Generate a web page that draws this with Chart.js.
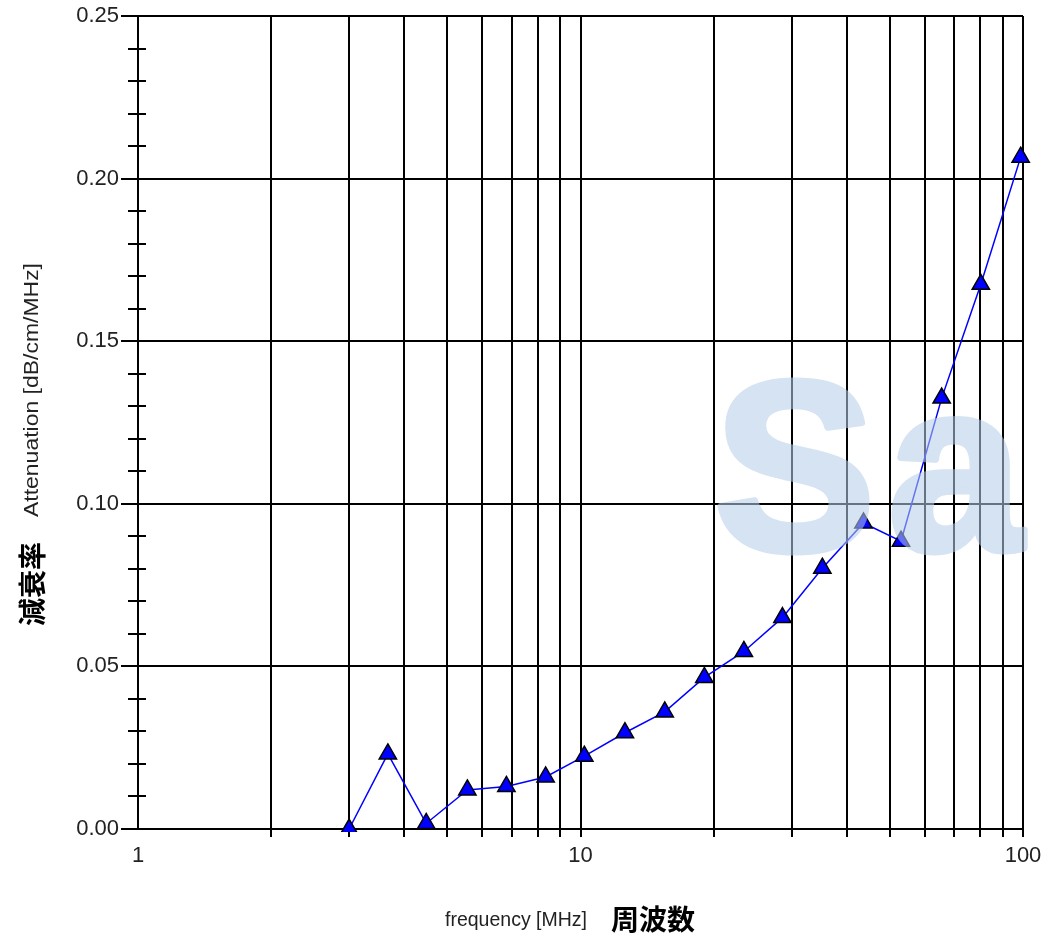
<!DOCTYPE html>
<html>
<head>
<meta charset="utf-8">
<script src="https://cdn.jsdelivr.net/npm/chart.js@4.4.1/dist/chart.umd.min.js"></script>
<style>
  html, body { margin: 0; padding: 0; background: #ffffff; }
  #wrap { width: 1043px; height: 938px; position: relative; }
  canvas { display: block; }
</style>
</head>
<body>
<div id="wrap"><canvas id="chart" width="1043" height="938"></canvas></div>
<script>
// Measured attenuation per frequency
const freqMHz = [3.0, 3.67, 4.48, 5.55, 6.80, 8.34, 10.2, 12.6, 15.5, 19.05, 23.4, 28.6, 35.2, 43.6, 53.0, 65.5, 80.3, 98.8];
const attenuation = [0.000, 0.0231, 0.0017, 0.0120, 0.0131, 0.0160, 0.0224, 0.0296, 0.0360, 0.0466, 0.0546, 0.0650, 0.0802, 0.0941, 0.0885, 0.1325, 0.1675, 0.2066];

// Axis ticks
const xGridTicks = [1, 2, 3, 4, 5, 6, 7, 8, 9, 10, 20, 30, 40, 50, 60, 70, 80, 90, 100];
const xTickLabels = [1, 10, 100];
const yMajorTicks = [0, 0.05, 0.10, 0.15, 0.20, 0.25];
const yMinorTicks = [0.01, 0.02, 0.03, 0.04, 0.06, 0.07, 0.08, 0.09, 0.11, 0.12, 0.13, 0.14,
                     0.16, 0.17, 0.18, 0.19, 0.21, 0.22, 0.23, 0.24];

// Titles
const xTitle = 'frequency [MHz]';
const xTitleJa = '周波数';
const yTitle = 'Attenuation [dB/cm/MHz]';
const yTitleJa = '減衰率';
const watermark = 'Sa';

const SANS = '"Liberation Sans", Arial, sans-serif';
const CJK = '"Noto Sans CJK JP", "Noto Sans CJK SC", sans-serif';

// Minor y ticks crossing the axis line
const minorTicksPlugin = {
  id: 'minorTicks',
  afterDatasetsDraw(chart) {
    const { ctx, scales: { y }, chartArea } = chart;
    ctx.save();
    ctx.strokeStyle = '#000';
    ctx.lineWidth = 2;
    ctx.beginPath();
    yMinorTicks.forEach(v => {
      const py = Math.round(y.getPixelForValue(v));
      ctx.moveTo(chartArea.left - 10, py);
      ctx.lineTo(chartArea.left + 8, py);
    });
    ctx.stroke();
    ctx.restore();
  }
};

// Axis titles (English + Japanese)
const titlesPlugin = {
  id: 'titles',
  afterDraw(chart) {
    const { ctx } = chart;
    ctx.save();
    ctx.fillStyle = '#222';
    ctx.textAlign = 'center';
    ctx.textBaseline = 'middle';
    ctx.font = '19.5px ' + SANS;
    ctx.fillText(xTitle, 516, 921);
    ctx.fillStyle = '#000';
    ctx.font = 'bold 28px ' + CJK;
    ctx.fillText(xTitleJa, 653, 919);
    ctx.restore();

    // vertical English title, slightly stretched along its length
    ctx.save();
    ctx.translate(32, 390);
    ctx.rotate(-Math.PI / 2);
    ctx.fillStyle = '#222';
    ctx.textAlign = 'center';
    ctx.textBaseline = 'middle';
    ctx.font = '20px ' + SANS;
    const stretch = 254 / ctx.measureText(yTitle).width;
    ctx.scale(stretch, 1);
    ctx.fillText(yTitle, 0, 0);
    ctx.restore();

    ctx.save();
    ctx.translate(32, 584);
    ctx.rotate(-Math.PI / 2);
    ctx.fillStyle = '#000';
    ctx.textAlign = 'center';
    ctx.textBaseline = 'middle';
    ctx.font = 'bold 28px ' + CJK;
    ctx.fillText(yTitleJa, 0, 0);
    ctx.restore();
  }
};

// Translucent logo mark over the plot
const watermarkPlugin = {
  id: 'watermark',
  afterDraw(chart) {
    const { ctx, width, height } = chart;
    const off = document.createElement('canvas');
    off.width = width;
    off.height = height;
    const o = off.getContext('2d');
    o.fillStyle = 'rgb(180, 205, 232)';
    o.strokeStyle = 'rgb(180, 205, 232)';
    o.lineWidth = 7;
    o.lineJoin = 'round';
    o.font = 'bold 242px ' + SANS;
    o.textAlign = 'left';
    o.textBaseline = 'alphabetic';
    o.fillText(watermark[0], 714, 550);
    o.strokeText(watermark[0], 714, 550);
    o.fillText(watermark[1], 888, 550);
    o.strokeText(watermark[1], 888, 550);
    ctx.save();
    ctx.globalAlpha = 0.56;
    ctx.drawImage(off, 0, 0);
    ctx.restore();
  }
};

new Chart(document.getElementById('chart'), {
  type: 'line',
  data: {
    datasets: [{
      data: freqMHz.map((f, i) => ({ x: f, y: attenuation[i] })),
      clip: { left: 0, top: 12, right: 12, bottom: 3 },
      borderColor: '#0000ff',
      borderWidth: 1.5,
      tension: 0,
      pointStyle: 'triangle',
      pointRadius: 10,
      pointHoverRadius: 10,
      pointBackgroundColor: '#0000ff',
      pointBorderColor: '#000000',
      pointBorderWidth: 1.5
    }]
  },
  options: {
    responsive: false,
    animation: false,
    devicePixelRatio: 1,
    layout: { padding: { left: 0, top: 16, right: 20, bottom: 0 } },
    plugins: { legend: { display: false }, tooltip: { enabled: false } },
    scales: {
      x: {
        type: 'logarithmic',
        min: 1,
        max: 100,
        afterBuildTicks(scale) {
          scale.ticks = xGridTicks.map(v => ({ value: v }));
        },
        afterFit(scale) {
          scale.height = 109;
          scale.paddingLeft = 0;
          scale.paddingRight = 0;
        },
        ticks: {
          autoSkip: false,
          maxRotation: 0,
          minRotation: 0,
          padding: 6,
          color: '#222',
          font: { family: SANS, size: 22 },
          callback: (v) => xTickLabels.includes(v) ? String(v) : ''
        },
        grid: {
          color: '#000',
          lineWidth: 2,
          tickLength: 8,
          tickColor: (c) => (c.tick && c.tick.value === 1) ? 'rgba(0,0,0,0)' : '#000'
        },
        border: { display: true, color: '#000', width: 2 }
      },
      y: {
        min: 0,
        max: 0.25,
        afterBuildTicks(scale) {
          scale.ticks = yMajorTicks.map(v => ({ value: v }));
        },
        afterFit(scale) {
          scale.width = 138;
          scale.paddingTop = 0;
          scale.paddingBottom = 0;
        },
        ticks: {
          padding: 2,
          color: '#222',
          font: { family: SANS, size: 22 },
          callback: (v) => Number(v).toFixed(2)
        },
        grid: { color: '#000', lineWidth: 2, tickLength: 17 },
        border: { display: true, color: '#000', width: 2 }
      }
    }
  },
  plugins: [minorTicksPlugin, titlesPlugin, watermarkPlugin]
});
</script>
</body>
</html>
